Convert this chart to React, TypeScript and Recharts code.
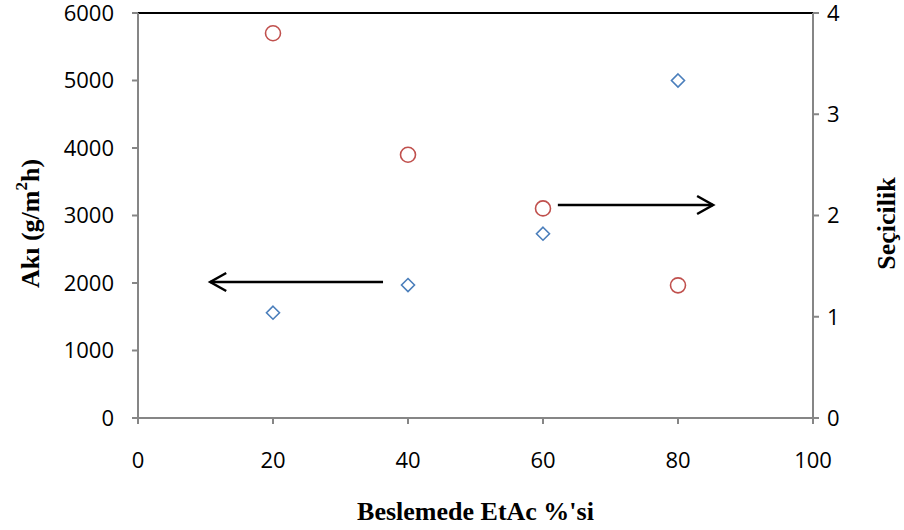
import {
  ScatterChart,
  Scatter,
  XAxis,
  YAxis,
  ReferenceLine,
} from 'recharts';

const feedPct = [20, 40, 60, 80];
const flux = [1560, 1970, 2730, 5000];
const selectivity = [3.8, 2.6, 2.07, 1.31];

const xTicks = [0, 20, 40, 60, 80, 100];
const fluxTicks = [0, 1000, 2000, 3000, 4000, 5000, 6000];
const selTicks = [0, 1, 2, 3, 4];

// arrow annotations in data units (feed %, flux)
const leftArrow = [
  { x: 36.3, y: 2015 },
  { x: 10.7, y: 2015 },
];
const rightArrow = [
  { x: 62.2, y: 3156 },
  { x: 85.2, y: 3156 },
];

const fluxData = feedPct.map((x, i) => ({ x, y: flux[i] }));
const selData = feedPct.map((x, i) => ({ x, y: selectivity[i] }));

const tickFont = { fill: '#000', fontSize: 22, fontFamily: '"Open Sans", sans-serif' };
const titleFont = 'Liberation Serif, "Times New Roman", serif';

const Diamond = (props: any) => {
  const { cx, cy } = props;
  const r = 6.5;
  return (
    <path
      d={`M${cx},${cy - r}L${cx + r},${cy}L${cx},${cy + r}L${cx - r},${cy}Z`}
      fill="none"
      stroke="#4a7ebb"
      strokeWidth={1.6}
    />
  );
};

const Ring = (props: any) => {
  const { cx, cy } = props;
  return <circle cx={cx} cy={cy} r={7.5} fill="none" stroke="#c0504d" strokeWidth={1.6} />;
};

const Arrow = (props: any) => {
  const { x1, y1, x2, y2 } = props;
  const dir = x2 > x1 ? 1 : -1;
  return (
    <g>
      <line x1={x1} y1={y1} x2={x2} y2={y2} stroke="#000" strokeWidth={2.5} />
      <path
        d={`M${x2 - dir * 16},${y2 - 9}L${x2},${y2}L${x2 - dir * 16},${y2 + 9}`}
        fill="none"
        stroke="#000"
        strokeWidth={2.5}
      />
    </g>
  );
};

const LeftTitle = (props: any) => {
  const { viewBox } = props;
  const cx = 30;
  const cy = viewBox.y + viewBox.height / 2 + 8;
  return (
    <text
      x={cx}
      y={cy}
      transform={`rotate(-90 ${cx} ${cy})`}
      textAnchor="middle"
      dominantBaseline="central"
      fontFamily={titleFont}
      fontWeight="bold"
      fontSize={26}
      fill="#000"
    >
      Akı (g/m
      <tspan fontSize={17} dy={-9}>2</tspan>
      <tspan dy={9}>h)</tspan>
    </text>
  );
};

const RightTitle = (props: any) => {
  const { viewBox } = props;
  const cx = 886;
  const cy = viewBox.y + viewBox.height / 2 + 8;
  return (
    <text
      x={cx}
      y={cy}
      transform={`rotate(-90 ${cx} ${cy})`}
      textAnchor="middle"
      dominantBaseline="central"
      fontFamily={titleFont}
      fontWeight="bold"
      fontSize={26}
      fill="#000"
    >
      Seçicilik
    </text>
  );
};

const App = () => {
  return (
    <div style={{ position: 'absolute', left: 0, top: 0, width: 904, height: 530, background: '#fff' }}>
      <ScatterChart width={904} height={530} margin={{ top: 13, right: 0, left: 0, bottom: 0 }}>
        <XAxis
          type="number"
          dataKey="x"
          domain={[0, 100]}
          ticks={xTicks}
          tick={tickFont}
          tickSize={6}
          tickMargin={28}
          height={112}
          stroke="#868686"
          strokeWidth={2}
          label={{
            value: "Beslemede EtAc %'si",
            position: 'insideBottom',
            offset: 10,
            fill: '#000',
            fontSize: 26,
            fontWeight: 'bold',
            fontFamily: titleFont,
          }}
        />
        <YAxis
          yAxisId="left"
          type="number"
          dataKey="y"
          domain={[0, 6000]}
          ticks={fluxTicks}
          tick={tickFont}
          tickSize={6}
          tickMargin={18}
          width={138}
          stroke="#868686"
          strokeWidth={2}
          label={{ content: LeftTitle }}
        />
        <YAxis
          yAxisId="right"
          orientation="right"
          type="number"
          dataKey="y"
          domain={[0, 4]}
          ticks={selTicks}
          tick={tickFont}
          tickSize={6}
          tickMargin={8}
          width={91}
          stroke="#868686"
          strokeWidth={2}
          label={{ content: RightTitle }}
        />
        <ReferenceLine yAxisId="left" y={6000} stroke="#000" strokeWidth={2} />
        <ReferenceLine yAxisId="left" segment={leftArrow} shape={Arrow} />
        <ReferenceLine yAxisId="left" segment={rightArrow} shape={Arrow} />
        <Scatter yAxisId="left" data={fluxData} shape={Diamond} isAnimationActive={false} />
        <Scatter yAxisId="right" data={selData} shape={Ring} isAnimationActive={false} />
      </ScatterChart>
    </div>
  );
};

export default App;
